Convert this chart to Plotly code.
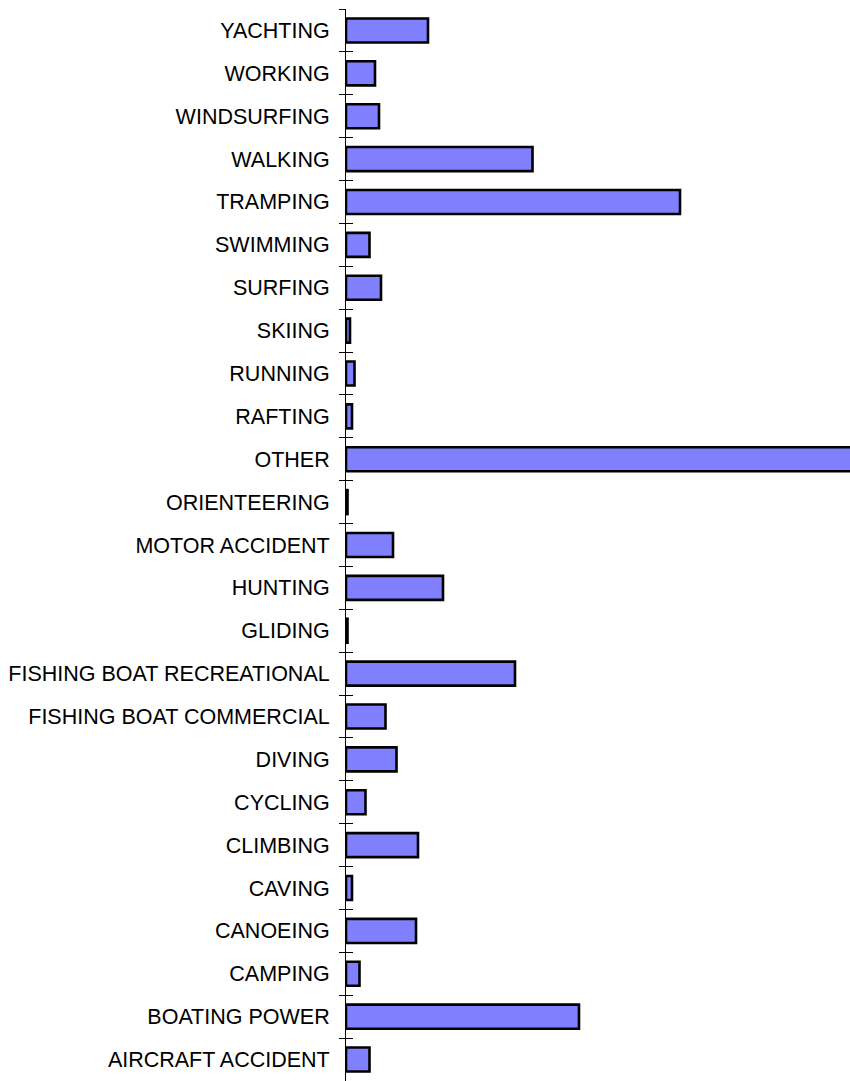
import plotly.graph_objects as go

categories = [
    "AIRCRAFT ACCIDENT", "BOATING POWER", "CAMPING", "CANOEING", "CAVING",
    "CLIMBING", "CYCLING", "DIVING", "FISHING BOAT COMMERCIAL",
    "FISHING BOAT RECREATIONAL", "GLIDING", "HUNTING", "MOTOR ACCIDENT",
    "ORIENTEERING", "OTHER", "RAFTING", "RUNNING", "SKIING", "SURFING",
    "SWIMMING", "TRAMPING", "WALKING", "WINDSURFING", "WORKING", "YACHTING",
]
values = [
    23.5, 233, 13.5, 70, 6,
    72, 19.5, 50.5, 39.5,
    169, 1.5, 97, 47,
    1.5, 620, 6, 8.5, 4, 35,
    23.5, 334, 186.5, 33, 29, 82,
]

fig = go.Figure()
fig.add_trace(go.Bar(
    y=categories, x=values, orientation="h",
    marker=dict(color="#8080FF", line=dict(color="#000000", width=2.6)),
    hoverinfo="x+y",
))
# invisible trace to carry the inside half of the crossing tick marks
fig.add_trace(go.Scatter(
    y=categories, x=[0] * len(categories), mode="markers",
    marker=dict(opacity=0), yaxis="y2", hoverinfo="skip", showlegend=False,
))

yax_common = dict(
    type="category", categoryorder="array", categoryarray=categories,
    range=[-0.5, len(categories) - 0.5], tickson="boundaries",
)

fig.update_layout(
    width=850, height=1081,
    margin=dict(l=346, r=0, t=9, b=0, pad=0),
    paper_bgcolor="white", plot_bgcolor="white",
    showlegend=False, bargap=0.44,
    xaxis=dict(visible=False, range=[0, 504], fixedrange=True),
    yaxis=dict(
        **yax_common,
        showline=True, linecolor="#000000", linewidth=1,
        ticks="outside", ticklen=6, tickwidth=1, tickcolor="#000000",
        ticklabelstandoff=11,
        tickfont=dict(family="Liberation Sans, Arial, sans-serif", size=21.5, color="#000000"),
        showgrid=False, zeroline=False,
    ),
    yaxis2=dict(
        **yax_common,
        overlaying="y", side="left", anchor="x",
        showline=False, showticklabels=False,
        ticks="inside", ticklen=7, tickwidth=1, tickcolor="#000000",
        showgrid=False, zeroline=False,
    ),
)

fig.write_html(
    "out.html",
    config={"displayModeBar": False},
    post_script="document.body.style.margin='0';document.body.style.overflow='hidden';",
)
